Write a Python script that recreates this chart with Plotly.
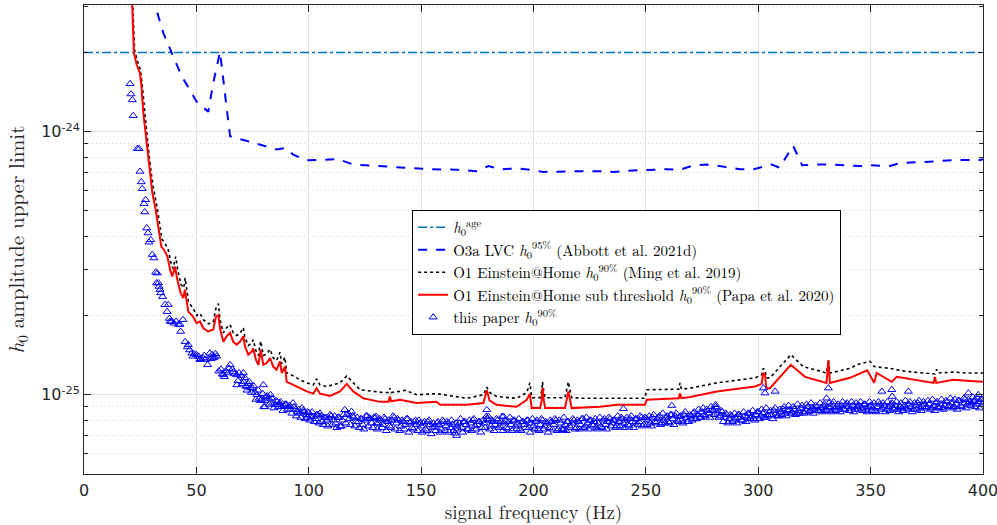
import plotly.graph_objects as go

# ---------------- data (amplitudes in units of 1e-25) ----------------
H_AGE = 20.0  # h0^age

o3a_freq = [30.5, 31.6, 35.3, 39.0, 43.5, 47.2, 50.1, 55.3, 57.5, 60.5, 65.0, 75.3, 85.7,
            89.4, 93.1, 99.1, 108.0, 113.2, 119.8, 131.7, 146.5, 154.0, 165.8, 174.7,
            179.9, 185.8, 192.5, 198.4, 204.4, 213.3, 220.7, 229.6, 235.5, 244.4, 251.8,
            259.3, 265.2, 271.1, 277.0, 280.0, 292.0, 298.0, 306.0, 309.5, 315.5, 319.5,
            326.0, 333.0, 345.0, 349.7, 358.6, 363.0, 378.0, 386.8, 398.7, 400.0]
o3a_val = [33.0, 30.3, 23.7, 20.1, 16.2, 14.4, 13.0, 11.9, 15.3, 20.1, 9.6, 9.08, 8.55,
           8.67, 8.18, 7.78, 7.83, 7.86, 7.50, 7.40, 7.28, 7.20, 7.17, 7.08,
           7.40, 7.20, 7.25, 7.17, 7.03, 7.08, 7.08, 7.08, 7.03, 7.12, 7.17,
           7.20, 7.17, 7.44, 7.50, 7.46, 7.20, 7.20, 7.50, 7.30, 8.85, 7.45,
           7.50, 7.50, 7.40, 7.45, 7.40, 7.60, 7.70, 7.80, 7.80, 7.85]

papa_freq = [21.3, 22.2, 23.4, 24.9, 25.5, 26.4, 27.4, 28.9, 30.4, 31.9, 33.4, 34.4, 35.6,
             37.1, 38.3, 39.3, 40.5, 41.5, 43.0, 44.2, 44.9, 46.4, 48.6, 50.1, 51.6, 53.1,
             55.3, 57.5, 58.7, 59.8, 60.5, 62.0, 63.5, 65.0, 66.4, 67.9, 69.4, 70.9, 71.6,
             73.1, 74.6, 75.3, 76.5, 77.6, 78.6, 79.8, 81.3, 82.8, 84.2, 85.7, 87.2, 88.0,
             89.4, 90.2, 93.1, 96.1, 99.1, 102.0, 103.5, 105.0, 109.5, 113.9, 116.9, 119.8,
             124.3, 131.7, 135.5, 136.1, 136.7, 140.6, 148.0, 156.9, 158.4, 170.3, 177.7,
             179.2, 180.5, 183.6, 192.5, 197.0, 198.4, 199.2, 202.9, 203.6, 204.0, 204.6,
             205.2, 214.0, 215.0, 215.5, 216.2, 217.0, 229.6, 237.0, 249.6, 250.4, 264.6,
             265.2, 265.8, 269.7, 281.5, 298.6, 301.5, 302.2, 303.0, 303.6, 305.2, 314.5,
             320.8, 326.0, 330.4, 331.2, 331.9, 340.8, 343.8, 348.5, 351.6, 352.7, 359.4,
             361.6, 378.0, 378.6, 379.2, 386.8, 392.7, 400.0]
papa_val = [33.0, 20.0, 18.0, 16.7, 15.0, 11.8, 9.9, 7.38, 5.85, 5.05, 4.24, 3.66, 3.56,
            3.36, 2.99, 2.82, 3.07, 2.74, 2.44, 2.33, 2.51, 2.07, 1.98, 1.87, 1.90, 1.79,
            1.74, 1.77, 1.98, 2.01, 1.79, 1.59, 1.67, 1.72, 1.59, 1.55, 1.59, 1.67, 1.53,
            1.42, 1.46, 1.50, 1.36, 1.30, 1.48, 1.30, 1.32, 1.38, 1.28, 1.245, 1.34, 1.21,
            1.28, 1.12, 1.09, 1.06, 1.03, 1.01, 1.06, 1.01, 0.99, 1.03, 1.10, 1.03,
            0.97, 0.94, 0.94, 0.985, 0.945, 0.957, 0.93, 0.94, 0.916, 0.916, 0.93,
            1.04, 0.95, 0.916, 0.90, 0.957, 1.01, 0.89, 0.89, 0.95, 1.06, 0.95,
            0.89, 0.89, 0.98, 1.03, 0.96, 0.89, 0.90, 0.916, 0.916, 0.957, 0.97,
            1.01, 0.97, 0.98, 1.03, 1.075, 1.10, 1.21, 1.19, 1.06, 1.06, 1.30,
            1.17, 1.14, 1.11, 1.35, 1.11, 1.16, 1.19, 1.24, 1.11, 1.21, 1.12,
            1.17, 1.11, 1.17, 1.11, 1.14, 1.13, 1.12]

ming_freq = [21.5, 22.5, 23.7, 25.1, 25.8, 26.7, 27.7, 29.2, 30.7, 32.2, 33.7, 34.7, 35.9,
             37.4, 38.6, 39.6, 40.8, 41.8, 43.2, 44.4, 45.0, 46.5, 48.6, 50.1, 51.6, 53.1,
             55.3, 57.5, 58.7, 59.8, 60.5, 62.0, 63.5, 65.0, 66.4, 67.9, 69.4, 70.9, 71.6,
             73.1, 74.6, 75.3, 76.5, 77.6, 78.6, 79.8, 81.3, 82.8, 84.2, 85.7, 87.2, 88.0,
             89.4, 90.2, 93.1, 96.1, 99.1, 102.0, 103.5, 105.0, 108.0, 113.9, 116.9, 119.8,
             122.8, 133.2, 135.5, 136.1, 136.7, 140.6, 143.0, 148.0, 156.9, 170.3, 177.7,
             179.2, 180.5, 183.6, 192.5, 197.0, 198.4, 199.2, 202.9, 203.6, 204.0, 204.6,
             205.2, 214.0, 215.0, 215.5, 216.2, 217.0, 222.0, 249.6, 250.4, 264.6, 265.2,
             265.8, 269.7, 281.5, 298.6, 301.5, 302.2, 303.0, 303.6, 305.2, 314.5, 320.0,
             326.0, 330.4, 331.2, 331.9, 340.8, 343.8, 349.7, 351.6, 358.6, 365.0, 373.4,
             378.6, 379.4, 380.2, 386.8, 392.7, 400.0]
ming_val = [33.0, 20.5, 18.6, 17.2, 15.4, 12.3, 10.4, 7.8, 6.2, 5.35, 4.5, 3.9, 3.78,
            3.58, 3.2, 3.02, 3.35, 2.95, 2.62, 2.55, 2.78, 2.25, 2.13, 2.0, 2.04, 1.93,
            1.86, 1.89, 2.13, 2.22, 1.93, 1.72, 1.80, 1.85, 1.72, 1.68, 1.71, 1.80, 1.65,
            1.54, 1.57, 1.62, 1.47, 1.41, 1.60, 1.41, 1.43, 1.49, 1.38, 1.35, 1.45, 1.31,
            1.39, 1.21, 1.18, 1.14, 1.11, 1.09, 1.15, 1.09, 1.075, 1.11, 1.18, 1.11,
            1.045, 1.02, 1.02, 1.06, 1.02, 1.03, 1.04, 1.0, 1.01, 0.97, 1.0,
            1.07, 1.02, 0.985, 0.97, 1.02, 1.11, 0.975, 0.975, 1.03, 1.12, 1.03,
            0.975, 0.975, 1.06, 1.12, 1.04, 0.975, 0.97, 0.97, 1.045, 1.05, 1.11,
            1.05, 1.06, 1.11, 1.16, 1.19, 1.26, 1.24, 1.16, 1.16, 1.42, 1.28,
            1.24, 1.21, 1.36, 1.21, 1.26, 1.30, 1.34, 1.28, 1.26, 1.23, 1.21,
            1.20, 1.25, 1.21, 1.22, 1.21, 1.21]

# this paper: low-frequency points and off-band points
paper_extra_freq = [20.5, 20.9, 21.5, 21.9, 23.7, 24.5, 24.9, 25.5, 25.9, 26.7, 27.0, 27.4,
                    27.9, 28.5, 28.9, 29.7, 30.4, 31.1, 31.9, 32.3, 33.1, 33.4, 33.8, 34.1,
                    32.6, 37.5, 38.3, 42.7, 46.4, 57.5, 61.5, 67.9, 70.9, 72.4, 79.8, 80.5,
                    99.5, 130.2, 179.2, 179.9, 186.6, 240.0, 261.5, 302.3, 303.0, 307.5,
                    330.4, 331.2, 355.0, 359.4, 359.6, 366.8, 393.5, 397.9, 281.0, 213.3, 165.8,
                    48.5, 51.5, 53.5, 56.5, 58.5, 62.5, 64.5, 66.5, 68.5]
paper_extra_val = [15.2, 13.9, 13.2, 11.5, 8.62, 8.62, 7.06, 6.44, 6.07, 5.32, 4.95, 5.51,
                   4.30, 4.12, 3.80, 3.88, 3.41, 3.31, 2.92, 2.66, 2.66, 2.58, 2.51, 2.44,
                   2.90, 2.20, 1.90, 1.85, 1.55, 1.38, 1.20, 1.19, 1.21, 1.075, 1.09, 0.90,
                   0.82, 0.78, 0.877, 0.827, 0.827, 0.885, 0.91, 1.06, 1.015, 1.03,
                   0.97, 1.06, 1.03, 1.045, 0.985, 1.03, 1.015, 1.0, 0.916, 0.736, 0.70,
                   1.40, 1.36, 1.41, 1.37, 1.43, 1.17, 1.26, 1.22, 1.13]

# this paper: main band, one point per Hz from 35 Hz to 400 Hz
paper_band_freq = list(range(35, 401))
paper_band_val = [
    2.36, 2.20, 2.07, 1.95, 1.90, 1.87, 1.90, 1.85, 1.74, 1.93,
    1.59, 1.52, 1.48, 1.44, 1.43, 1.42, 1.40, 1.37, 1.38, 1.36,
    1.30, 1.44, 1.42, 1.39, 1.40, 1.23, 1.25, 1.19, 1.23, 1.21,
    1.30, 1.25, 1.20, 1.09, 1.21, 1.18, 1.12, 1.08, 1.10, 1.06,
    1.06, 1.02, 1.00, 0.97, 0.96, 0.90, 0.985, 0.97, 1.00, 0.93,
    0.916, 0.94, 0.93, 0.90, 0.91, 0.92, 0.90, 0.88, 0.93, 0.877,
    0.86, 0.85, 0.89, 0.86, 0.84, 0.855, 0.83, 0.827, 0.81, 0.84,
    0.85, 0.79, 0.82, 0.80, 0.815, 0.83, 0.80, 0.78, 0.82, 0.758,
    0.80, 0.877, 0.84, 0.81, 0.864, 0.82, 0.79, 0.79, 0.81, 0.77,
    0.80, 0.83, 0.815, 0.78, 0.82, 0.827, 0.78, 0.80, 0.77, 0.81,
    0.79, 0.76, 0.80, 0.82, 0.78, 0.80, 0.76, 0.79, 0.77, 0.81,
    0.78, 0.75, 0.79, 0.77, 0.80, 0.76, 0.78, 0.74, 0.79, 0.77,
    0.75, 0.758, 0.78, 0.77, 0.74, 0.79, 0.76, 0.78, 0.75, 0.77,
    0.715, 0.76, 0.78, 0.75, 0.79, 0.77, 0.74, 0.78, 0.80, 0.76,
    0.77, 0.79, 0.75, 0.78, 0.827, 0.80, 0.76, 0.79, 0.77, 0.80,
    0.76, 0.827, 0.78, 0.75, 0.79, 0.77, 0.80, 0.76, 0.78, 0.74,
    0.79, 0.77, 0.80, 0.75, 0.78, 0.76, 0.79, 0.74, 0.77, 0.80,
    0.76, 0.78, 0.75, 0.79, 0.77, 0.80, 0.74, 0.78, 0.736, 0.77,
    0.79, 0.76, 0.78, 0.80, 0.75, 0.79, 0.77, 0.81, 0.76, 0.78,
    0.80, 0.77, 0.79, 0.75, 0.78, 0.758, 0.80, 0.77, 0.79, 0.81,
    0.78, 0.80, 0.76, 0.79, 0.82, 0.78, 0.80, 0.77, 0.81, 0.79,
    0.78, 0.81, 0.79, 0.82, 0.77, 0.815, 0.80, 0.78, 0.82, 0.79,
    0.81, 0.83, 0.78, 0.80, 0.82, 0.79, 0.84, 0.81, 0.83, 0.80,
    0.827, 0.80, 0.84, 0.82, 0.79, 0.83, 0.85, 0.81, 0.84, 0.82,
    0.86, 0.84, 0.88, 0.85, 0.90, 0.87, 0.90, 0.85, 0.83, 0.86,
    0.82, 0.84, 0.81, 0.83, 0.80, 0.815, 0.84, 0.82, 0.80, 0.83,
    0.82, 0.85, 0.83, 0.81, 0.84, 0.86, 0.83, 0.85, 0.82, 0.84,
    0.86, 0.84, 0.87, 0.85, 0.83, 0.86, 0.88, 0.85, 0.87, 0.877,
    0.86, 0.88, 0.85, 0.87, 0.89, 0.86, 0.88, 0.90, 0.87, 0.89,
    0.88, 0.90, 0.87, 0.89, 0.91, 0.88, 0.90, 0.89, 0.92, 0.88,
    0.90, 0.89, 0.91, 0.88, 0.92, 0.90, 0.89, 0.91, 0.88, 0.90,
    0.91, 0.89, 0.92, 0.88, 0.90, 0.91, 0.89, 0.87, 0.90, 0.92,
    0.89, 0.91, 0.88, 0.90, 0.92, 0.89, 0.91, 0.88, 0.90, 0.89,
    0.91, 0.89, 0.92, 0.90, 0.88, 0.91, 0.93, 0.89, 0.90, 0.92,
    0.90, 0.92, 0.89, 0.91, 0.93, 0.90, 0.92, 0.89, 0.91, 0.94,
    0.91, 0.93, 0.90, 0.92, 0.95, 0.91, 0.93, 0.96, 0.92, 0.94,
    0.93, 0.95, 0.92, 0.94, 0.96, 0.93,
]
assert len(paper_band_val) == len(paper_band_freq)

# this paper: second set of band points, half-integer frequencies 70.5 .. 399.5 Hz
paper_band2_freq = [70.5 + i for i in range(330)]
paper_band2_val = [
    1.10, 1.16, 1.04, 1.12, 1.02, 1.08, 0.96, 1.04, 0.95, 1.01,
    0.95, 0.99, 0.92, 0.97, 0.89, 0.95, 0.90, 0.94, 0.87, 0.92,
    0.88, 0.91, 0.85, 0.90, 0.83, 0.88, 0.82, 0.87, 0.81, 0.86,
    0.80, 0.86, 0.79, 0.84, 0.78, 0.83, 0.77, 0.82, 0.76, 0.84,
    0.77, 0.83, 0.75, 0.82, 0.76, 0.84, 0.78, 0.85, 0.77, 0.83,
    0.76, 0.82, 0.75, 0.81, 0.74, 0.83, 0.76, 0.81, 0.75, 0.82,
    0.74, 0.81, 0.75, 0.82, 0.73, 0.80, 0.75, 0.83, 0.74, 0.81,
    0.73, 0.80, 0.74, 0.81, 0.72, 0.79, 0.74, 0.80, 0.73, 0.78,
    0.72, 0.79, 0.73, 0.80, 0.71, 0.78, 0.73, 0.79, 0.72, 0.80,
    0.73, 0.79, 0.72, 0.80, 0.73, 0.78, 0.74, 0.81, 0.72, 0.79,
    0.74, 0.80, 0.73, 0.81, 0.74, 0.79, 0.72, 0.80, 0.75, 0.81,
    0.74, 0.80, 0.73, 0.81, 0.75, 0.79, 0.73, 0.80, 0.74, 0.82,
    0.73, 0.80, 0.74, 0.81, 0.73, 0.79, 0.75, 0.80, 0.72, 0.81,
    0.74, 0.80, 0.73, 0.81, 0.74, 0.79, 0.72, 0.80, 0.74, 0.81,
    0.73, 0.80, 0.74, 0.82, 0.73, 0.79, 0.75, 0.81, 0.74, 0.80,
    0.74, 0.81, 0.75, 0.82, 0.74, 0.80, 0.76, 0.81, 0.74, 0.82,
    0.75, 0.81, 0.74, 0.82, 0.76, 0.80, 0.75, 0.83, 0.76, 0.81,
    0.75, 0.82, 0.76, 0.83, 0.75, 0.81, 0.77, 0.83, 0.76, 0.82,
    0.77, 0.83, 0.76, 0.84, 0.78, 0.82, 0.77, 0.85, 0.78, 0.83,
    0.78, 0.84, 0.77, 0.85, 0.79, 0.83, 0.78, 0.86, 0.79, 0.84,
    0.80, 0.86, 0.81, 0.88, 0.82, 0.89, 0.83, 0.87, 0.82, 0.88,
    0.84, 0.89, 0.82, 0.87, 0.79, 0.85, 0.78, 0.84, 0.79, 0.85,
    0.78, 0.84, 0.80, 0.86, 0.79, 0.85, 0.81, 0.87, 0.80, 0.86,
    0.81, 0.88, 0.82, 0.89, 0.83, 0.87, 0.81, 0.89, 0.83, 0.88,
    0.84, 0.90, 0.83, 0.91, 0.85, 0.90, 0.84, 0.92, 0.85, 0.91,
    0.85, 0.92, 0.86, 0.93, 0.85, 0.91, 0.87, 0.93, 0.86, 0.92,
    0.87, 0.93, 0.86, 0.94, 0.87, 0.92, 0.86, 0.94, 0.88, 0.93,
    0.87, 0.94, 0.86, 0.93, 0.88, 0.94, 0.87, 0.92, 0.86, 0.94,
    0.87, 0.93, 0.86, 0.94, 0.88, 0.93, 0.86, 0.94, 0.87, 0.93,
    0.88, 0.94, 0.86, 0.93, 0.87, 0.95, 0.88, 0.94, 0.86, 0.93,
    0.88, 0.95, 0.87, 0.94, 0.89, 0.95, 0.88, 0.96, 0.87, 0.94,
    0.89, 0.96, 0.88, 0.95, 0.90, 0.97, 0.89, 0.96, 0.88, 0.95,
    0.90, 0.97, 0.89, 0.96, 0.91, 0.98, 0.90, 0.97, 0.89, 0.96,
]
assert len(paper_band2_val) == len(paper_band2_freq)

x_ticks = [0, 50, 100, 150, 200, 250, 300, 350, 400]
y_major = [1e-25, 1e-24]
y_major_text = ["10<sup>-25</sup>", "10<sup>-24</sup>"]
y_minor = [6e-26, 7e-26, 8e-26, 9e-26] + [k * 1e-25 for k in range(2, 10)] + [2e-24, 3e-24]

SCALE = 1e-25

def sc(v):
    return [x * SCALE for x in v]

SERIF = "'Latin Modern Roman', 'CMU Serif', 'Liberation Serif', 'DejaVu Serif', serif"
SANS = "'DejaVu Sans', 'Liberation Sans', sans-serif"

fig = go.Figure()

fig.add_trace(go.Scatter(
    x=[0, 400], y=[H_AGE * SCALE, H_AGE * SCALE], mode="lines",
    line=dict(color="#0072BD", width=1.5, dash="dashdot"),
    name="<i>h</i><sub>0</sub><sup>age</sup>"))

fig.add_trace(go.Scatter(
    x=o3a_freq, y=sc(o3a_val), mode="lines",
    line=dict(color="#0000FF", width=2, dash="dash"),
    name="O3a LVC <i>h</i><sub>0</sub><sup>95%</sup> (Abbott et al. 2021d)"))

fig.add_trace(go.Scatter(
    x=ming_freq, y=sc(ming_val), mode="lines",
    line=dict(color="#000000", width=1.6, dash="dot"),
    name="O1 Einstein@Home <i>h</i><sub>0</sub><sup>90%</sup> (Ming et al. 2019)"))

fig.add_trace(go.Scatter(
    x=papa_freq, y=sc(papa_val), mode="lines",
    line=dict(color="#FF0000", width=2),
    name="O1 Einstein@Home sub threshold <i>h</i><sub>0</sub><sup>90%</sup> (Papa et al. 2020)"))

fig.add_trace(go.Scatter(
    x=paper_extra_freq + paper_band_freq + paper_band2_freq,
    y=sc(paper_extra_val + paper_band_val + paper_band2_val), mode="markers",
    marker=dict(symbol="triangle-up-open", size=7, color="#0000FF", line=dict(width=1)),
    name="this paper <i>h</i><sub>0</sub><sup>90%</sup>"))

axis_common = dict(
    showline=True, linecolor="#262626", linewidth=1, mirror="allticks",
    ticks="inside", tickcolor="#262626", ticklen=7,
    gridcolor="#E3E3E3", gridwidth=1, zeroline=False, automargin=False,
    ticklabeloverflow="allow",
    tickfont=dict(family=SANS, size=16, color="#262626"),
)

fig.update_xaxes(
    **axis_common, range=[0, 400], tickvals=x_ticks, ticklabelstandoff=2,
    title=dict(text="signal frequency (Hz)", font=dict(family=SERIF, size=19, color="#262626"), standoff=6),
)
fig.update_yaxes(
    **axis_common, type="log",
    range=[-25.30103, -23.5186],
    tickvals=y_major, ticktext=y_major_text,
    minor=dict(tickvals=y_minor, ticks="inside", ticklen=4, tickcolor="#262626",
               showgrid=True, gridcolor="#D2D2D2", griddash="1px,3px", gridwidth=1),
    title=dict(text="<i>h</i><sub>0</sub> amplitude upper limit", font=dict(family=SERIF, size=21, color="#262626"), standoff=14),
)

fig.update_layout(
    width=997, height=525,
    margin=dict(l=84, r=14, t=5, b=51),
    paper_bgcolor="white", plot_bgcolor="white",
    legend=dict(x=0.365, y=0.563, xanchor="left", yanchor="top",
                bgcolor="white", bordercolor="#000000", borderwidth=1,
                font=dict(family=SERIF, size=15, color="#000000"),
                tracegroupgap=0, itemwidth=30),
    showlegend=True,
)

fig.write_html("out.html", config={"displayModeBar": False},
               post_script="document.body.style.margin='0';document.body.style.padding='0';")
